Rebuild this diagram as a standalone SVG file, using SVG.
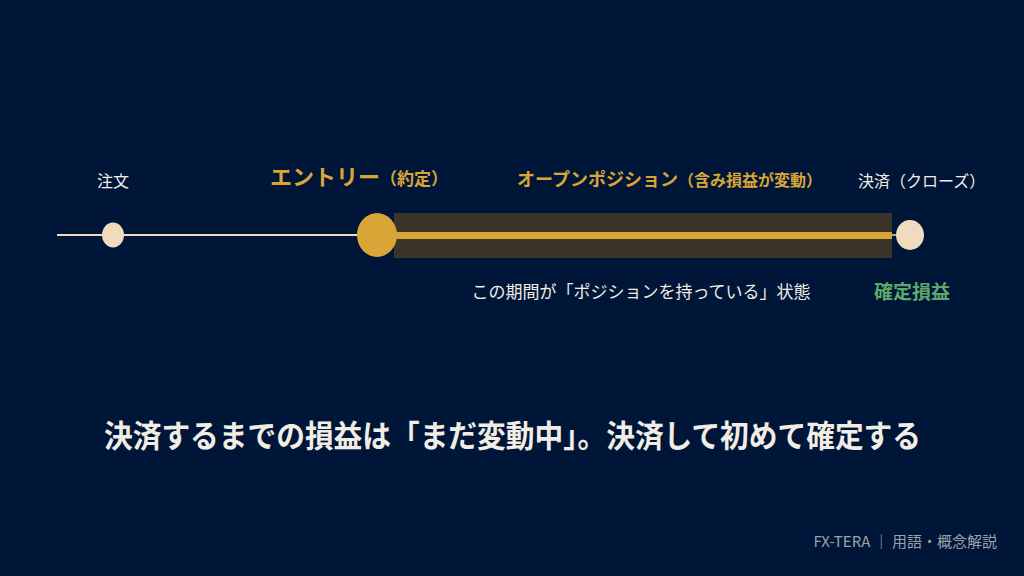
<svg xmlns="http://www.w3.org/2000/svg" width="1024" height="576" viewBox="0 0 1024 576">
<style>
.w{fill:#f2ede4;font-family:"Noto Sans CJK JP","Noto Sans",sans-serif;}
.g{fill:#d9a536;font-family:"Noto Sans CJK JP","Noto Sans",sans-serif;font-weight:bold;}
.cream{fill:#efdcbf;}
</style>
<rect width="1024" height="576" fill="#001638"/>
<g id="connectors">
<line x1="57" y1="235" x2="370" y2="235" stroke="#efdcbf" stroke-width="2"/>
<rect x="394" y="213" width="498" height="45" fill="#3a3528"/>
<line x1="377" y1="235.5" x2="892" y2="235.5" stroke="#d9a536" stroke-width="7"/>
<line x1="892" y1="235" x2="900" y2="235" stroke="#efdcbf" stroke-width="1.5"/>
</g>
<g id="node-order">
<ellipse cx="113" cy="235" rx="11" ry="12.5" class="cream"/>
<text x="113" y="187" class="w" font-size="16" text-anchor="middle">注文</text>
</g>
<g id="node-entry">
<ellipse cx="377" cy="235" rx="20" ry="22" fill="#d9a536"/>
<text x="270" y="185" class="g" font-size="22">エントリー<tspan font-size="17">（約定）</tspan></text>
</g>
<g id="node-open">
<text x="517" y="186" class="g" font-size="18">オープンポジション<tspan font-size="16">（含み損益が変動）</tspan></text>
<text x="641" y="298" class="w" font-size="17" text-anchor="middle">この期間が「ポジションを持っている」状態</text>
</g>
<g id="node-close">
<ellipse cx="910" cy="235" rx="14" ry="15" class="cream"/>
<text x="858" y="187" class="w" font-size="16">決済（クローズ）</text>
<text x="912" y="299" font-family="'Noto Sans CJK JP',sans-serif" font-weight="bold" font-size="19" fill="#5fa86b" text-anchor="middle">確定損益</text>
</g>
<text x="104" y="447" class="w" font-weight="bold" font-size="31" textLength="817" lengthAdjust="spacingAndGlyphs">決済するまでの損益は「まだ変動中」。決済して初めて確定する</text>
<text x="997" y="547" font-family="'Noto Sans CJK JP',sans-serif" font-size="15" fill="#9ba1aa" text-anchor="end">FX-TERA ｜ 用語・概念解説</text>
</svg>
